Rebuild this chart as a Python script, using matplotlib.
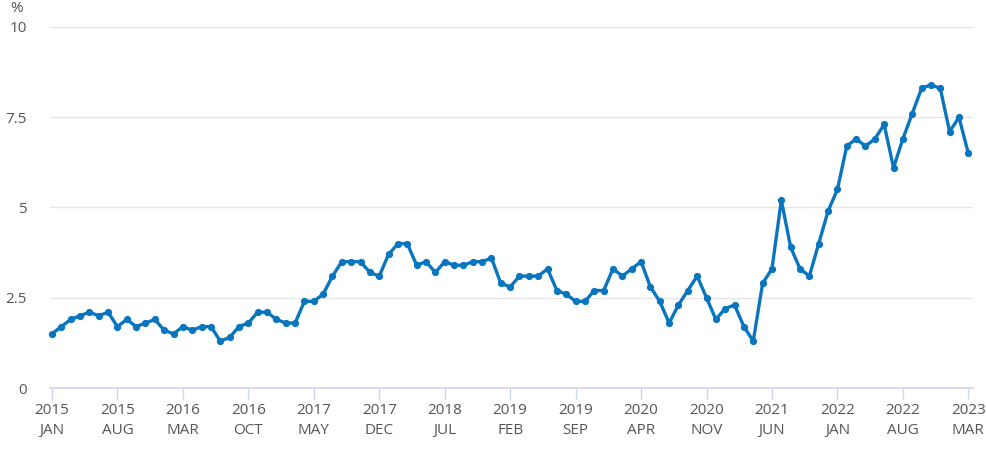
import matplotlib
matplotlib.use("Agg")
import matplotlib.pyplot as plt

months = ["JAN", "FEB", "MAR", "APR", "MAY", "JUN", "JUL", "AUG", "SEP", "OCT", "NOV", "DEC"]
start_year = 2015
values = [
    1.5, 1.7, 1.9, 2.0, 2.1, 2.0, 2.1, 1.7, 1.9, 1.7, 1.8, 1.9,   # 2015
    1.6, 1.5, 1.7, 1.6, 1.7, 1.7, 1.3, 1.4, 1.7, 1.8, 2.1, 2.1,   # 2016
    1.9, 1.8, 1.8, 2.4, 2.4, 2.6, 3.1, 3.5, 3.5, 3.5, 3.2, 3.1,   # 2017
    3.7, 4.0, 4.0, 3.4, 3.5, 3.2, 3.5, 3.4, 3.4, 3.5, 3.5, 3.6,   # 2018
    2.9, 2.8, 3.1, 3.1, 3.1, 3.3, 2.7, 2.6, 2.4, 2.4, 2.7, 2.7,   # 2019
    3.3, 3.1, 3.3, 3.5, 2.8, 2.4, 1.8, 2.3, 2.7, 3.1, 2.5, 1.9,   # 2020
    2.2, 2.3, 1.7, 1.3, 2.9, 3.3, 5.2, 3.9, 3.3, 3.1, 4.0, 4.9,   # 2021
    5.5, 6.7, 6.9, 6.7, 6.9, 7.3, 6.1, 6.9, 7.6, 8.3, 8.4, 8.3,   # 2022
    7.1, 7.5, 6.5,                                                # 2023
]
y_ticks = [0, 2.5, 5, 7.5, 10]
y_tick_labels = ["0", "2.5", "5", "7.5", "10"]
tick_step = 7

plt.rcParams['font.family'] = ['Open Sans', 'DejaVu Sans']

fig = plt.figure(figsize=(9.87, 4.49), dpi=100)
ax = fig.add_axes([50/987, 1-388/449, 923/987, 361/449])

x = list(range(len(values)))
ax.plot(x, values, color="#0a75bf", lw=2.4, marker="o", ms=4.2, zorder=3,
        solid_joinstyle="round", clip_on=False)

ax.set_ylim(0, 10)
ax.set_xlim(-0.21, 98.5)
ax.set_yticks(y_ticks)
ax.set_yticklabels(y_tick_labels, fontsize=11, color="#555555")
ax.tick_params(axis="y", length=0, pad=16.5)
for yt in y_ticks[1:]:
    ax.axhline(yt, color="#e6e6e6", lw=1, zorder=1)

xt = list(range(0, len(values), tick_step))
xl = []
for i in xt:
    yr = start_year + i // 12
    xl.append(f"{yr}\n{months[i % 12]}")
ax.set_xticks(xt)
ax.set_xticklabels(xl, fontsize=11, color="#555555", linespacing=1.45)
ax.tick_params(axis="x", length=8, width=1, color="#ccd6eb", pad=2.5)

for s in ["top", "right", "left"]:
    ax.spines[s].set_visible(False)
ax.spines["bottom"].set_color("#ccd6eb")
ax.spines["bottom"].set_linewidth(1.2)

fig.text(16.5/987, 1-9/449, "%", fontsize=11, color="#555555", ha="center", va="center")

fig.savefig("out.png", dpi=100)
